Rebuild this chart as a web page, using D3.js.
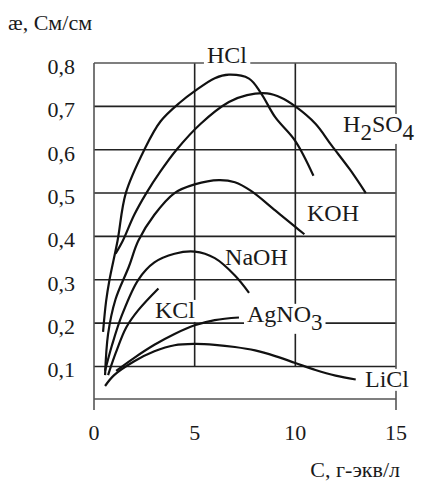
<!DOCTYPE html>
<html>
<head>
<meta charset="utf-8">
<script src="https://cdn.jsdelivr.net/npm/d3@7"></script>
</head>
<body style="margin:0">
<svg id="chart" width="421" height="483"></svg>
<script>
// concentration C (g-eq/l) vs conductivity (S/cm)
const hcl = [[0.45, 0.18], [0.6, 0.25], [0.77, 0.3], [1.17, 0.39], [1.58, 0.5], [2.5, 0.6], [3.3, 0.665],
    [4.3, 0.71], [5, 0.735], [6, 0.765], [6.7, 0.773], [7.7, 0.764], [8.3, 0.73], [9, 0.675], [10, 0.62], [10.9, 0.54]];
const h2so4 = [[1.07, 0.36], [1.43, 0.39], [2, 0.45], [2.6, 0.5], [3.3, 0.55], [4.1, 0.6], [5.3, 0.66],
    [6.7, 0.71], [7.6, 0.726], [8.6, 0.73], [9.3, 0.72], [10, 0.7], [11, 0.66], [11.8, 0.61], [12.7, 0.555], [13.5, 0.5]];
const koh = [[0.55, 0.08], [0.7, 0.175], [1.07, 0.255], [1.73, 0.33], [2.2, 0.39], [3, 0.45], [4, 0.5],
    [5, 0.52], [6.2, 0.53], [7, 0.525], [7.8, 0.505], [9, 0.46], [10, 0.422], [10.45, 0.405]];
const naoh = [[0.55, 0.09], [0.9, 0.15], [1.4, 0.22], [2.2, 0.3], [3, 0.34], [4, 0.36], [5, 0.365],
    [6, 0.35], [7, 0.31], [7.7, 0.27]];
const kcl = [[0.7, 0.08], [1.07, 0.13], [1.6, 0.19], [2.2, 0.23], [3.2, 0.28]];
const agno3 = [[1.1, 0.09], [2, 0.12], [3, 0.15], [4, 0.175], [5, 0.195], [6, 0.207], [7.2, 0.213]];
const licl = [[0.55, 0.055], [1, 0.08], [2, 0.112], [3, 0.135], [4, 0.149], [5, 0.152], [6, 0.15],
    [7, 0.145], [8, 0.137], [9, 0.124], [10, 0.108], [11, 0.092], [12, 0.079], [13, 0.07]];

const xTicks = [0, 5, 10, 15];
const yTicks = [0.1, 0.2, 0.3, 0.4, 0.5, 0.6, 0.7, 0.8];
const yTitle = "æ, См/см";
const xTitle = "С, г-экв/л";

const serif = "Liberation Serif";

const svg = d3.select("#chart");

const x = d3.scaleLinear().domain([0, 15]).range([94, 396]);
const y = d3.scaleLinear().domain([0.025, 0.8]).range([399, 63]);

function addText(sel) {
    return sel.append("text")
        .attr("font-family", serif)
        .style("font-family", d => `"${serif}"`)
        .style("fill", "#1a1a1a");
}

const grid = svg.append("g");

// horizontal grid lines
grid.selectAll(".hline")
    .data(yTicks.slice(0, -1))
    .enter().append("line")
    .attr("x1", x(0)).attr("x2", x(15))
    .attr("y1", d => y(d)).attr("y2", d => y(d))
    .style("stroke", "#222")
    .style("stroke-width", 1.6);

// vertical grid lines at 5 and 10
grid.selectAll(".vline")
    .data(xTicks.slice(1, -1))
    .enter().append("line")
    .attr("x1", d => x(d)).attr("x2", d => x(d))
    .attr("y1", y(0.8)).attr("y2", y(0.1))
    .style("stroke", "#222")
    .style("stroke-width", 1.6);

// frame
const frame = [
    [x(0), y(0.8), x(15), y(0.8)],
    [x(0), y.range()[0], x(15), y.range()[0]],
    [x(0), y(0.8), x(0), y.range()[0] + 11],
    [x(15), y(0.8), x(15), y.range()[0] + 11]
];
grid.selectAll(".frame")
    .data(frame)
    .enter().append("line")
    .attr("x1", d => d[0]).attr("y1", d => d[1])
    .attr("x2", d => d[2]).attr("y2", d => d[3])
    .style("stroke", "#555")
    .style("stroke-width", 1.6);

// axis tick labels
addText(svg.selectAll(".ytick").data(yTicks).enter())
    .attr("x", 75)
    .attr("y", d => y(d) + 11)
    .attr("text-anchor", "end")
    .style("font-size", "22px")
    .text(d => d3.format(".1f")(d).replace(".", ","));

addText(svg.selectAll(".xtick").data(xTicks).enter())
    .attr("x", d => x(d))
    .attr("y", 440)
    .attr("text-anchor", "middle")
    .style("font-size", "22px")
    .text(d => d);

addText(svg)
    .attr("x", 8).attr("y", 30)
    .style("font-size", "22px")
    .text(yTitle);

addText(svg)
    .attr("x", 400).attr("y", 477)
    .attr("text-anchor", "end")
    .style("font-size", "22px")
    .text(xTitle);

// curve labels, positioned in data space; [main, sub] pairs
const labels = [
    { parts: [["HCl", ""]], c: 5.61, v: 0.8 },
    { parts: [["H", "2"], ["SO", "4"]], c: 12.37, v: 0.641 },
    { parts: [["KOH", ""]], c: 10.58, v: 0.436 },
    { parts: [["NaOH", ""]], c: 6.51, v: 0.334 },
    { parts: [["KCl", ""]], c: 3.03, v: 0.212 },
    { parts: [["AgNO", "3"]], c: 7.6, v: 0.203 },
    { parts: [["LiCl", ""]], c: 13.46, v: 0.053 }
];

const bgG = svg.append("g");
const curveG = svg.append("g");
const textG = svg.append("g");

const texts = addText(textG.selectAll("text").data(labels).enter())
    .attr("x", d => x(d.c))
    .attr("y", d => y(d.v))
    .style("font-size", "24px");

texts.each(function (d) {
    const t = d3.select(this);
    let shifted = false;
    d.parts.forEach(([main, sub]) => {
        const m = t.append("tspan").text(main);
        if (shifted) { m.attr("dy", -8); shifted = false; }
        if (sub) {
            t.append("tspan").attr("dy", 8).style("font-size", "23px").text(sub);
            shifted = true;
        }
    });
});

// white boxes behind labels so grid lines break there
texts.each(function () {
    const b = this.getBBox();
    bgG.append("rect")
        .attr("x", b.x - 3).attr("y", b.y + 3)
        .attr("width", b.width + 6).attr("height", b.height - 4)
        .style("fill", "#fff");
});

// curves
const line = d3.line()
    .x(d => x(d[0]))
    .y(d => y(d[1]))
    .curve(d3.curveCatmullRom.alpha(0.5));

curveG.selectAll("path")
    .data([hcl, h2so4, koh, naoh, kcl, agno3, licl])
    .enter().append("path")
    .attr("d", line)
    .style("fill", "none")
    .style("stroke", "#111")
    .style("stroke-width", 2.2);
</script>
</body>
</html>
